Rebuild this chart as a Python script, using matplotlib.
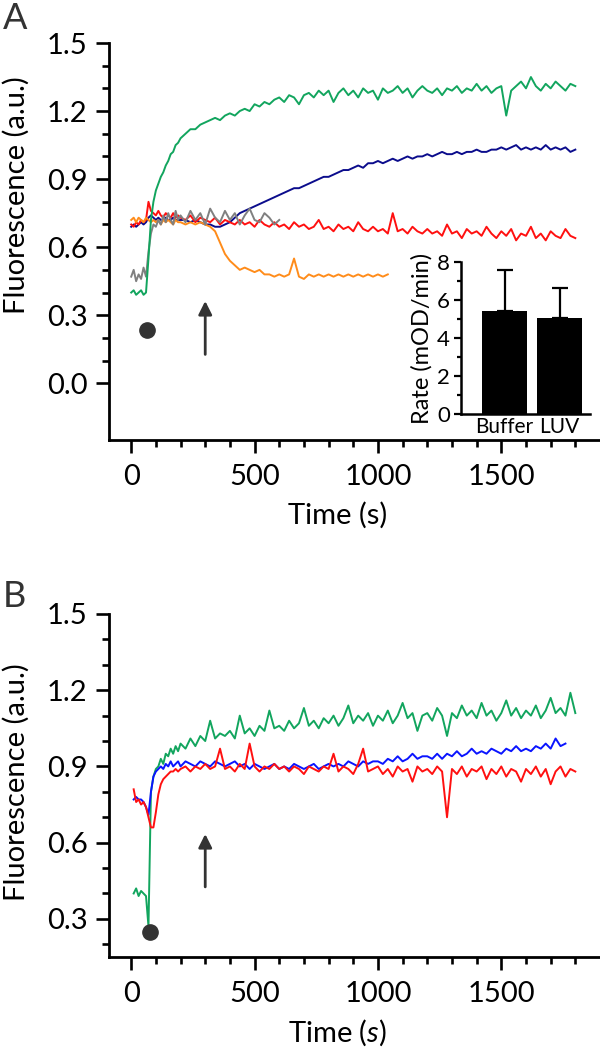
import numpy as np
import matplotlib
matplotlib.use("Agg")
import matplotlib.pyplot as plt
from matplotlib.ticker import FixedLocator

plt.rcParams['font.family'] = ['Lato', 'DejaVu Sans']
plt.rcParams['mathtext.fontset'] = 'custom'
plt.rcParams['mathtext.rm'] = 'Lato'
plt.rcParams['mathtext.it'] = 'Lato:italic'

# ---------------- data : panel A ----------------
t_a_early = np.arange(0, 200, 10)
t_a_late = np.arange(200, 1801, 20)
time_a = np.concatenate([t_a_early, t_a_late])
time_a_gray = np.concatenate([t_a_early, np.arange(200, 601, 20)])
time_a_orange = np.concatenate([t_a_early, np.arange(200, 1041, 20)])

green_a = [0.40, 0.41, 0.39, 0.40, 0.41, 0.39, 0.40, 0.55, 0.72, 0.80,
           0.85, 0.88, 0.91, 0.93, 0.96, 0.98, 1.01, 1.02, 1.05, 1.06,
           1.08, 1.10, 1.12, 1.12, 1.14, 1.15, 1.16, 1.17, 1.16, 1.18,
           1.19, 1.18, 1.20, 1.21, 1.20, 1.23, 1.22, 1.24, 1.23, 1.25,
           1.26, 1.24, 1.27, 1.26, 1.23, 1.27, 1.28, 1.26, 1.29, 1.27,
           1.29, 1.24, 1.28, 1.30, 1.27, 1.29, 1.26, 1.30, 1.28, 1.29,
           1.25, 1.30, 1.28, 1.29, 1.31, 1.28, 1.30, 1.26, 1.29, 1.31,
           1.29, 1.28, 1.30, 1.27, 1.30, 1.29, 1.31, 1.28, 1.30, 1.29,
           1.32, 1.29, 1.31, 1.28, 1.30, 1.31, 1.18, 1.29, 1.31, 1.33,
           1.30, 1.35, 1.31, 1.29, 1.32, 1.30, 1.33, 1.31, 1.29, 1.32,
           1.31]
navy_a = [0.69, 0.70, 0.69, 0.70, 0.71, 0.70, 0.71, 0.73, 0.74, 0.73,
          0.72, 0.73, 0.72, 0.72, 0.73, 0.72, 0.72, 0.73, 0.72, 0.72,
          0.72, 0.72, 0.71, 0.72, 0.71, 0.70, 0.70, 0.69, 0.69, 0.70,
          0.71, 0.73, 0.75, 0.76, 0.77, 0.78, 0.79, 0.80, 0.81, 0.82,
          0.83, 0.84, 0.85, 0.86, 0.86, 0.87, 0.88, 0.89, 0.90, 0.91,
          0.91, 0.92, 0.93, 0.94, 0.94, 0.95, 0.96, 0.95, 0.97, 0.97,
          0.98, 0.97, 0.98, 0.99, 0.98, 0.99, 1.00, 0.99, 1.00, 1.00,
          1.01, 1.00, 1.01, 1.02, 1.01, 1.01, 1.02, 1.01, 1.02, 1.02,
          1.03, 1.02, 1.02, 1.03, 1.03, 1.04, 1.03, 1.04, 1.05, 1.03,
          1.04, 1.03, 1.04, 1.03, 1.05, 1.03, 1.04, 1.03, 1.04, 1.02,
          1.03]
red_a = [0.70, 0.69, 0.71, 0.70, 0.72, 0.71, 0.72, 0.80, 0.76, 0.75,
         0.74, 0.76, 0.74, 0.73, 0.75, 0.74, 0.73, 0.75, 0.73, 0.74,
         0.73, 0.72, 0.74, 0.71, 0.73, 0.72, 0.71, 0.73, 0.70, 0.72,
         0.71, 0.70, 0.72, 0.70, 0.71, 0.69, 0.72, 0.70, 0.69, 0.71,
         0.69, 0.70, 0.68, 0.71, 0.69, 0.70, 0.68, 0.69, 0.72, 0.68,
         0.69, 0.67, 0.70, 0.68, 0.69, 0.67, 0.71, 0.68, 0.67, 0.69,
         0.67, 0.68, 0.66, 0.75, 0.67, 0.68, 0.66, 0.69, 0.67, 0.66,
         0.68, 0.66, 0.67, 0.65, 0.70, 0.66, 0.67, 0.64, 0.68, 0.66,
         0.67, 0.65, 0.69, 0.66, 0.64, 0.67, 0.65, 0.68, 0.63, 0.66,
         0.65, 0.69, 0.64, 0.66, 0.63, 0.67, 0.65, 0.64, 0.68, 0.65,
         0.64]
gray_a = [0.47, 0.50, 0.45, 0.48, 0.46, 0.51, 0.47, 0.58, 0.66, 0.70,
          0.69, 0.72, 0.70, 0.74, 0.71, 0.75, 0.72, 0.70, 0.76, 0.72,
          0.74, 0.71, 0.76, 0.72, 0.75, 0.70, 0.77, 0.73, 0.71, 0.76,
          0.72, 0.75, 0.70, 0.74, 0.77, 0.72, 0.71, 0.75, 0.73, 0.70,
          0.72]
orange_a = [0.72, 0.73, 0.71, 0.73, 0.72, 0.71, 0.73, 0.72, 0.71, 0.72,
            0.71, 0.72, 0.70, 0.72, 0.71, 0.72, 0.71, 0.70, 0.72, 0.71,
            0.71, 0.70, 0.71, 0.70, 0.71, 0.70, 0.69, 0.67, 0.62, 0.57,
            0.54, 0.52, 0.50, 0.51, 0.50, 0.49, 0.50, 0.48, 0.48, 0.47,
            0.48, 0.47, 0.48, 0.55, 0.47, 0.46, 0.48, 0.47, 0.48, 0.47,
            0.48, 0.47, 0.48, 0.47, 0.48, 0.47, 0.48, 0.47, 0.48, 0.47,
            0.48, 0.47, 0.48]

# inset bar chart
bar_labels = ["Buffer", "LUV"]
bar_rates = [5.4, 5.05]
bar_errors = [2.2, 1.6]

# ---------------- data : panel B ----------------
t_b_early = np.arange(10, 200, 10)
time_b = np.concatenate([t_b_early, np.arange(200, 1801, 20)])
time_b_blue = np.concatenate([t_b_early, np.arange(200, 1761, 20)])

green_b = [0.40, 0.42, 0.39, 0.41, 0.40, 0.39, 0.27, 0.80, 0.86, 0.89,
           0.90, 0.93, 0.91, 0.95, 0.94, 0.97, 0.95, 0.98, 0.96,
           0.99, 0.97, 1.01, 0.98, 1.02, 1.00, 1.08, 1.01, 1.03, 1.02,
           1.04, 1.01, 1.10, 1.03, 1.05, 1.02, 1.06, 1.04, 1.12, 1.05,
           1.06, 1.04, 1.08, 1.05, 1.07, 1.13, 1.06, 1.08, 1.05, 1.09,
           1.07, 1.10, 1.06, 1.09, 1.14, 1.07, 1.10, 1.08, 1.11, 1.06,
           1.10, 1.08, 1.12, 1.07, 1.10, 1.15, 1.09, 1.11, 1.04, 1.10,
           1.11, 1.08, 1.13, 1.10, 1.02, 1.11, 1.09, 1.14, 1.10, 1.12,
           1.09, 1.15, 1.10, 1.12, 1.08, 1.11, 1.16, 1.10, 1.13, 1.09,
           1.12, 1.10, 1.14, 1.09, 1.12, 1.17, 1.11, 1.13, 1.10, 1.19,
           1.11]
blue_b = [0.77, 0.78, 0.77, 0.77, 0.76, 0.74, 0.71, 0.80, 0.86, 0.88,
          0.89, 0.90, 0.89, 0.91, 0.90, 0.92, 0.90, 0.91, 0.92,
          0.90, 0.92, 0.91, 0.90, 0.92, 0.91, 0.90, 0.92, 0.91, 0.90,
          0.91, 0.92, 0.90, 0.91, 0.89, 0.91, 0.90, 0.89, 0.90, 0.91,
          0.89, 0.90, 0.89, 0.91, 0.90, 0.89, 0.90, 0.91, 0.89, 0.90,
          0.91, 0.90, 0.91, 0.90, 0.92, 0.91, 0.90, 0.92, 0.91, 0.92,
          0.92, 0.91, 0.93, 0.92, 0.94, 0.92, 0.93, 0.95, 0.93, 0.94,
          0.94, 0.93, 0.95, 0.93, 0.95, 0.94, 0.96, 0.94, 0.95, 0.97,
          0.95, 0.96, 0.95, 0.97, 0.96, 0.95, 0.97, 0.96, 0.98, 0.96,
          0.97, 0.96, 0.98, 0.97, 0.99, 0.97, 1.01, 0.98,
          0.99]
red_b = [0.81, 0.76, 0.77, 0.75, 0.76, 0.74, 0.70, 0.66, 0.66, 0.72,
         0.79, 0.83, 0.85, 0.86, 0.87, 0.88, 0.88, 0.89, 0.88,
         0.89, 0.90, 0.88, 0.90, 0.89, 0.91, 0.89, 0.90, 0.97, 0.89,
         0.90, 0.88, 0.91, 0.89, 0.99, 0.90, 0.88, 0.90, 0.89, 0.91,
         0.89, 0.90, 0.88, 0.90, 0.89, 0.87, 0.90, 0.89, 0.88, 0.90,
         0.89, 0.95, 0.88, 0.90, 0.89, 0.87, 0.91, 0.97, 0.88, 0.89,
         0.90, 0.87, 0.89, 0.86, 0.90, 0.88, 0.89, 0.84, 0.90, 0.88,
         0.89, 0.87, 0.90, 0.88, 0.70, 0.89, 0.87, 0.90, 0.86, 0.89,
         0.88, 0.90, 0.85, 0.89, 0.87, 0.90, 0.86, 0.89, 0.88, 0.84,
         0.89, 0.87, 0.90, 0.86, 0.89, 0.83, 0.88, 0.90, 0.86, 0.89,
         0.88]

# annotation positions (data units)
dot_a = (65, 0.235)
arrow_a = (300, 0.115, 0.375)
dot_b = (75, 0.25)
arrow_b = (300, 0.415, 0.645)

# ---------------- styling ----------------
C_GREEN = "#12A55E"
C_NAVY = "#0B0C8C"
C_RED = "#FF1010"
C_GRAY = "#808080"
C_ORANGE = "#FF8C1A"
C_BLUE = "#0A14FF"
C_DARK = "#333333"
FS = 21
LW = 1.4

W, H = 600, 1052
fig = plt.figure(figsize=(W / 100, H / 100), dpi=100)


def px_axes(left, top, right, bottom):
    return fig.add_axes([left / W, 1 - bottom / H, (right - left) / W, (bottom - top) / H])


def style(ax, yminor):
    for s in ("top", "right"):
        ax.spines[s].set_visible(False)
    for s in ("left", "bottom"):
        ax.spines[s].set_linewidth(2.0)
    ax.set_xlim(-90, 1900)
    ax.set_xticks([0, 500, 1000, 1500])
    ax.xaxis.set_minor_locator(FixedLocator([v for v in range(100, 1801, 100) if v % 500]))
    ax.yaxis.set_minor_locator(FixedLocator(yminor))
    ax.tick_params(which="major", direction="out", length=9.5, width=1.9, labelsize=FS, pad=6)
    ax.tick_params(axis="x", which="major", pad=8)
    ax.tick_params(which="minor", direction="out", length=5, width=1.9)


# ---------- panel A ----------
axA = px_axes(109, 43, 600, 440)
axA.plot(time_a, navy_a, color=C_NAVY, lw=LW)
axA.plot(time_a, red_a, color=C_RED, lw=LW)
axA.plot(time_a_orange, orange_a, color=C_ORANGE, lw=LW)
axA.plot(time_a_gray, gray_a, color=C_GRAY, lw=LW)
axA.plot(time_a, green_a, color=C_GREEN, lw=LW)
axA.set_ylim(-0.25, 1.5)
axA.set_yticks([0.0, 0.3, 0.6, 0.9, 1.2, 1.5])
axA.set_yticklabels(["0.0", "0.3", "0.6", "0.9", "1.2", "1.5"])
style(axA, [0.1, 0.2, 0.4, 0.5, 0.7, 0.8, 1.0, 1.1, 1.3, 1.4])
axA.plot(dot_a[0], dot_a[1], "o", ms=11, color=C_DARK, clip_on=False)
axA.annotate("", xy=(arrow_a[0], arrow_a[2]), xytext=(arrow_a[0], arrow_a[1]),
             arrowprops=dict(arrowstyle="-|>", color=C_DARK, lw=2, mutation_scale=20))
axA.set_xlabel("Time (s)", fontsize=FS, labelpad=6)
axA.xaxis.set_label_coords(0.466, -0.155)

fig.text(16 / W, 1 - 195 / H, "Fluorescence (a.u.)", rotation=90, ha="center", va="center", fontsize=FS)
fig.text(3 / W, 1 - 2 / H, "A", ha="left", va="top", fontsize=26, color=C_DARK)

# inset
axI = px_axes(461, 262, 590, 414)
axI.set_facecolor("none")
axI.bar([0, 1], bar_rates, width=0.82, color="black",
        yerr=[[0, 0], bar_errors], capsize=6,
        error_kw=dict(elinewidth=1.6, capthick=1.6, ecolor="black"))
axI.set_ylim(0, 8)
axI.set_xlim(-0.79, 1.55)
for s in ("top", "right"):
    axI.spines[s].set_visible(False)
for s in ("left", "bottom"):
    axI.spines[s].set_linewidth(1.8)
axI.set_yticks([0, 2, 4, 6, 8])
axI.yaxis.set_minor_locator(FixedLocator([1, 3, 5, 7]))
axI.set_xticks([0, 1])
axI.set_xticklabels(bar_labels)
axI.tick_params(axis="x", length=0, labelsize=15, pad=2)
axI.tick_params(axis="y", which="major", length=5, width=1.6, labelsize=16, pad=3)
axI.tick_params(axis="y", which="minor", length=3, width=1.6)
axI.set_ylabel("Rate (mOD/min)", fontsize=17, labelpad=3)

# ---------- panel B ----------
axB = px_axes(109, 614, 600, 957)
axB.plot(time_b, green_b, color=C_GREEN, lw=LW)
axB.plot(time_b_blue, blue_b, color=C_BLUE, lw=LW)
axB.plot(time_b, red_b, color=C_RED, lw=LW)
axB.set_ylim(0.15, 1.5)
axB.set_yticks([0.3, 0.6, 0.9, 1.2, 1.5])
axB.set_yticklabels(["0.3", "0.6", "0.9", "1.2", "1.5"])
style(axB, [0.2, 0.4, 0.5, 0.7, 0.8, 1.0, 1.1, 1.3, 1.4])
axB.plot(dot_b[0], dot_b[1], "o", ms=11, color=C_DARK, clip_on=False)
axB.annotate("", xy=(arrow_b[0], arrow_b[2]), xytext=(arrow_b[0], arrow_b[1]),
             arrowprops=dict(arrowstyle="-|>", color=C_DARK, lw=2, mutation_scale=20))
axB.set_xlabel(r"Time ($\mathit{s}$)", fontsize=FS)
axB.xaxis.set_label_coords(0.466, -0.175)

fig.text(16 / W, 1 - 782 / H, "Fluorescence (a.u.)", rotation=90, ha="center", va="center", fontsize=FS)
fig.text(3 / W, 1 - 580 / H, "B", ha="left", va="top", fontsize=26, color=C_DARK)

fig.savefig("out.png", dpi=100)
